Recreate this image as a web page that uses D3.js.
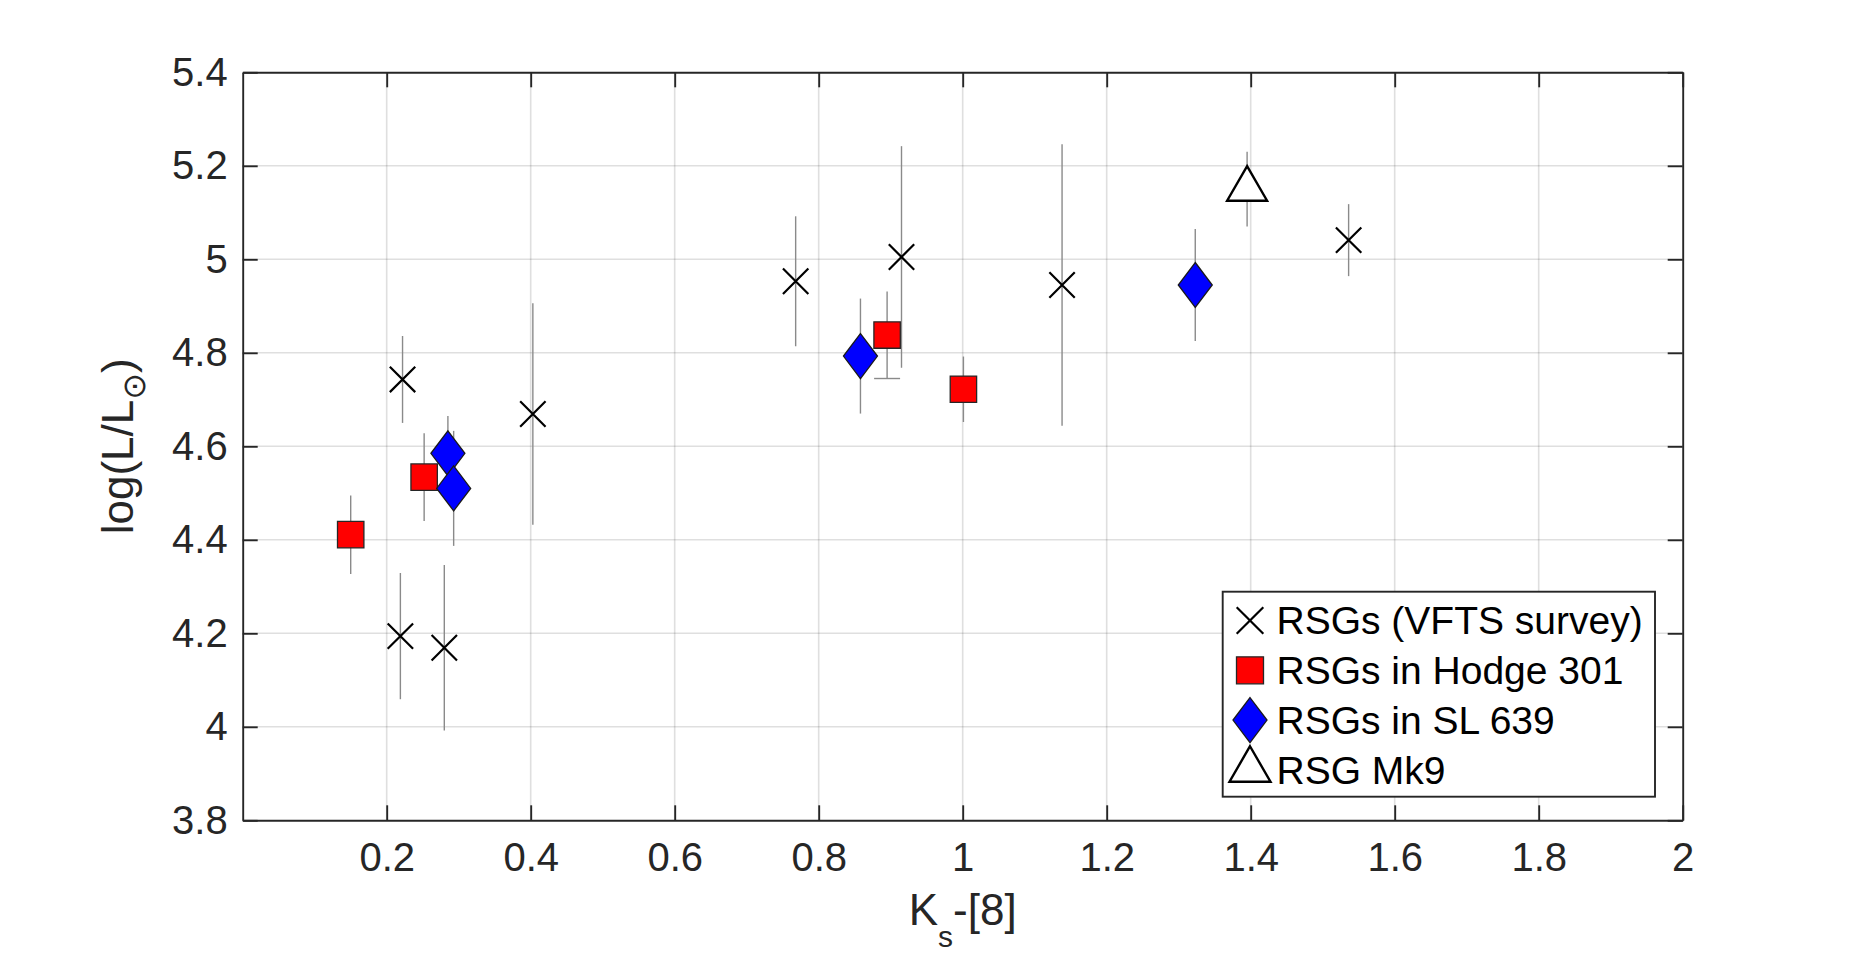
<!DOCTYPE html>
<html>
    <head>
        <!--d3 from the cdn-->
        <script type="text/javascript" src="https://d3js.org/d3.v7.min.js"></script>
        <style>
            body { margin: 0; background: #fff; }
            text { font-family: "Liberation Sans", Arial, Helvetica, sans-serif; fill: #262626; }
        </style>
    </head>

    <body>
        <svg width="1860" height="956"></svg>

        <script type="text/javascript">
            // ---- data ----
            // RSGs (VFTS survey), drawn as crosses
            var vftsX   = [0.222, 0.219, 0.280, 0.403, 0.768, 0.915, 1.138, 1.536];
            var vftsY   = [4.743, 4.194, 4.169, 4.669, 4.953, 5.005, 4.945, 5.041];
            var vftsErr = [0.093, 0.135, 0.177, 0.237, 0.139, 0.237, 0.301, 0.077];

            // RSGs in Hodge 301, red squares
            var hodgeX   = [0.150, 0.252, 0.895, 1.001];
            var hodgeY   = [4.411, 4.534, 4.838, 4.722];
            var hodgeErr = [0.084, 0.094, 0.093, 0.070];
            var hodgeLowCap = [false, false, true, false]; // one bar shows a cap at its lower end

            // RSGs in SL 639, blue diamonds
            var slX   = [0.285, 0.293, 0.858, 1.323];
            var slY   = [4.585, 4.510, 4.793, 4.945];
            var slErr = [0.080, 0.123, 0.123, 0.120];

            // RSG Mk9, open triangle
            var mk9X   = [1.395];
            var mk9Y   = [5.150];
            var mk9Err = [0.080];

            var xTicks = [0.2, 0.4, 0.6, 0.8, 1, 1.2, 1.4, 1.6, 1.8, 2];
            var xTickLabels = ["0.2", "0.4", "0.6", "0.8", "1", "1.2", "1.4", "1.6", "1.8", "2"];
            var yTicks = [3.8, 4, 4.2, 4.4, 4.6, 4.8, 5, 5.2, 5.4];
            var yTickLabels = ["3.8", "4", "4.2", "4.4", "4.6", "4.8", "5", "5.2", "5.4"];

            var legendLabels = ["RSGs (VFTS survey)", "RSGs in Hodge 301", "RSGs in SL 639", "RSG Mk9"];

            // ---- layout ----  (window.top is read-only, so no plain "top" here)
            var pL = 242.7, pR = 1682.7, pT = 72.3, pB = 820.3;
            var axisCol = "#262626";

            var svg = d3.select("svg");
            var x = d3.scaleLinear().domain([0, 2]).range([pL, pR]);
            var y = d3.scaleLinear().domain([3.8, 5.4]).range([pB, pT]);

            function zip(xs, ys, es) {
                return xs.map(function(v, i) { return {x: v, y: ys[i], e: es[i], i: i}; });
            }
            var vfts = zip(vftsX, vftsY, vftsErr);
            var hodge = zip(hodgeX, hodgeY, hodgeErr);
            var sl = zip(slX, slY, slErr);
            var mk9 = zip(mk9X, mk9Y, mk9Err);

            // white plot area
            svg.append("rect").attr("x", pL).attr("y", pT)
                .attr("width", pR - pL).attr("height", pB - pT)
                .style("fill", "#fff");

            // grid
            var grid = svg.append("g").attr("class", "grid");
            grid.selectAll("line.gx").data(xTicks.filter(function(t) { return t < 2; }))
                .enter().append("line").attr("class", "gx")
                .attr("x1", function(d) { return x(d); }).attr("x2", function(d) { return x(d); })
                .attr("y1", pT).attr("y2", pB);
            grid.selectAll("line.gy").data(yTicks.filter(function(t) { return t > 3.8 && t < 5.4; }))
                .enter().append("line").attr("class", "gy")
                .attr("x1", pL).attr("x2", pR)
                .attr("y1", function(d) { return y(d); }).attr("y2", function(d) { return y(d); });
            grid.selectAll("line").style("stroke", axisCol).style("stroke-opacity", 0.15).style("stroke-width", 1.6);

            // error bars (under the markers)
            var bars = svg.append("g");
            [vfts, hodge, sl, mk9].forEach(function(series) {
                bars.selectAll(null).data(series).enter().append("line")
                    .attr("x1", function(d) { return x(d.x); }).attr("x2", function(d) { return x(d.x); })
                    .attr("y1", function(d) { return y(d.y + d.e); })
                    .attr("y2", function(d) { return y(d.y - d.e); })
                    .style("stroke", "#8a8a8a").style("stroke-width", 1.4);
            });
            bars.selectAll(null).data(hodge.filter(function(d) { return hodgeLowCap[d.i]; }))
                .enter().append("line")
                .attr("x1", function(d) { return x(d.x) - 13; }).attr("x2", function(d) { return x(d.x) + 13; })
                .attr("y1", function(d) { return y(d.y - d.e); }).attr("y2", function(d) { return y(d.y - d.e); })
                .style("stroke", "#8a8a8a").style("stroke-width", 1.4);

            // marker shapes
            function crossPath(s) { return "M" + -s + "," + -s + "L" + s + "," + s + "M" + -s + "," + s + "L" + s + "," + -s; }
            function squarePath(s) { return "M" + -s + "," + -s + "H" + s + "V" + s + "H" + -s + "Z"; }
            function diamondPath(w, h) { return "M0," + -h + "L" + w + ",0L0," + h + "L" + -w + ",0Z"; }
            function trianglePath(w) { var h = w * 0.866; return "M0," + (-2 * h / 3) + "L" + (w / 2) + "," + (h / 3) + "L" + (-w / 2) + "," + (h / 3) + "Z"; }

            var shapes = [
                {d: crossPath(12.7), fill: "none", stroke: "#000", sw: 2.2},
                {d: squarePath(13.2), fill: "#ff0000", stroke: "#262626", sw: 1.3},
                {d: diamondPath(17, 22.5), fill: "#0000ff", stroke: "#1a1a1a", sw: 1.3},
                {d: trianglePath(40), fill: "#fff", stroke: "#000", sw: 2.4}
            ];

            var marks = svg.append("g");
            [vfts, hodge, sl, mk9].forEach(function(series, k) {
                marks.selectAll(null).data(series).enter().append("path")
                    .attr("transform", function(d) { return "translate(" + x(d.x) + "," + y(d.y) + ")"; })
                    .attr("d", shapes[k].d)
                    .style("fill", shapes[k].fill).style("stroke", shapes[k].stroke)
                    .style("stroke-width", shapes[k].sw).style("stroke-linejoin", "miter");
            });

            // axes: ticks point inward, all four sides
            var fmtX = function(d, i) { return xTickLabels[i]; };
            var fmtY = function(d, i) { return yTickLabels[i]; };
            var gB = svg.append("g").attr("transform", "translate(0," + pB + ")")
                .call(d3.axisBottom(x).tickValues(xTicks).tickFormat(fmtX).tickSizeInner(-15).tickSizeOuter(0).tickPadding(22));
            var gT = svg.append("g").attr("transform", "translate(0," + pT + ")")
                .call(d3.axisTop(x).tickValues(xTicks).tickFormat("").tickSizeInner(-15).tickSizeOuter(0));
            var gL = svg.append("g").attr("transform", "translate(" + pL + ",0)")
                .call(d3.axisLeft(y).tickValues(yTicks).tickFormat(fmtY).tickSizeInner(-15).tickSizeOuter(0).tickPadding(15));
            var gR = svg.append("g").attr("transform", "translate(" + pR + ",0)")
                .call(d3.axisRight(y).tickValues(yTicks).tickFormat("").tickSizeInner(-15).tickSizeOuter(0));
            [gB, gT, gL, gR].forEach(function(g) {
                g.select(".domain").style("stroke", axisCol).style("stroke-width", 1.9);
                g.selectAll(".tick line").style("stroke", axisCol).style("stroke-width", 1.9);
                g.selectAll(".tick text").style("font-size", "40px").style("fill", axisCol)
                    .style("font-family", "'Liberation Sans', Arial, sans-serif");
            });

            // axis labels
            var xl = svg.append("text").attr("x", (pL + pR) / 2).attr("y", 925)
                .attr("text-anchor", "middle").style("font-size", "44px");
            xl.append("tspan").text("K");
            xl.append("tspan").attr("dy", 22).style("font-size", "30px").text("s");
            xl.append("tspan").attr("dy", -22).text("-[8]");

            var yl = svg.append("text").attr("transform", "translate(133," + ((pT + pB) / 2) + ") rotate(-90)")
                .attr("text-anchor", "middle").style("font-size", "44px");
            yl.append("tspan").text("log(L/L");
            yl.append("tspan").attr("dy", 12).style("font-size", "32px")
                .style("font-family", "'DejaVu Sans', sans-serif").text("\u2299");
            yl.append("tspan").attr("dy", -12).text(")");

            // legend
            var lg = svg.append("g");
            lg.append("rect").attr("x", 1222.7).attr("y", 591.7).attr("width", 432.3).attr("height", 205)
                .style("fill", "#fff").style("stroke", axisCol).style("stroke-width", 1.9);
            var legendShapes = [
                crossPath(13.3), squarePath(13.5), diamondPath(17, 22.5), trianglePath(41)
            ];
            var rows = lg.selectAll("g.row").data(legendLabels).enter().append("g")
                .attr("class", "row")
                .attr("transform", function(d, i) { return "translate(0," + (620.5 + i * 49.8) + ")"; });
            rows.append("path")
                .attr("transform", "translate(1250,0)")
                .attr("d", function(d, i) { return legendShapes[i]; })
                .style("fill", function(d, i) { return shapes[i].fill; })
                .style("stroke", function(d, i) { return shapes[i].stroke; })
                .style("stroke-width", function(d, i) { return shapes[i].sw; });
            rows.append("text").attr("x", 1276.5).attr("dy", "0.35em")
                .style("font-size", "39px").style("fill", "#000")
                .text(function(d) { return d; });
        </script>
    </body>
</html>
